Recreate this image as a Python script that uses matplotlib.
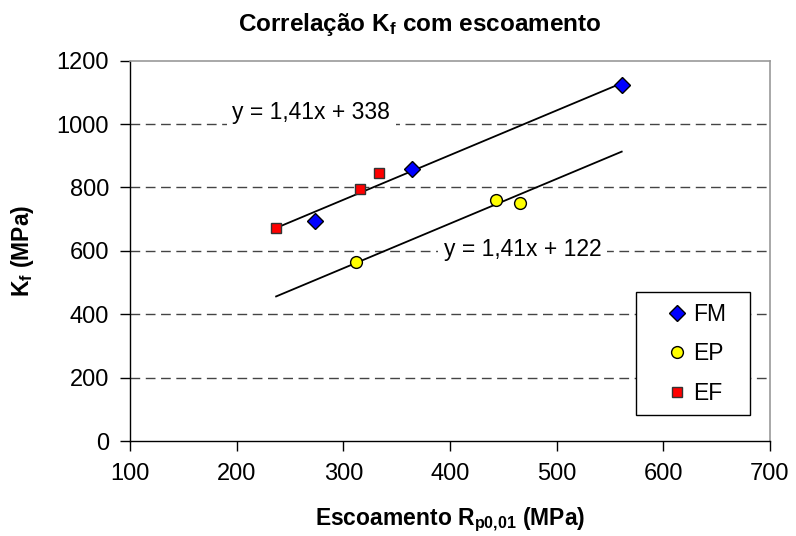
import numpy as np
import matplotlib
matplotlib.use("Agg")
import matplotlib.pyplot as plt
from matplotlib.patches import Rectangle

plt.rcParams['font.family'] = ['Liberation Sans', 'DejaVu Sans']
plt.rcParams['mathtext.fontset'] = 'custom'
plt.rcParams['mathtext.rm'] = 'Liberation Sans'
plt.rcParams['mathtext.bf'] = 'Liberation Sans:bold'
plt.rcParams['mathtext.default'] = 'regular'

# data
fm_x = [273, 364, 561]
fm_y = [695, 858, 1123]
ep_x = [312, 443, 466]
ep_y = [565, 760, 752]
ef_x = [237, 316, 333]
ef_y = [672, 796, 845]

slope = 1.41
upper_b = 338
lower_b = 122

x_ticks = [100, 200, 300, 400, 500, 600, 700]
y_ticks = [0, 200, 400, 600, 800, 1000, 1200]

fig = plt.figure(figsize=(7.96, 5.36), dpi=100)
ax = fig.add_axes([0.1633, 0.1772, 0.804, 0.7096])

# gridlines
for yv in y_ticks[1:-1]:
    ax.axhline(yv, color='#444444', lw=1, ls=(0, (7, 4)), zorder=0)

all_x = np.array(fm_x + ep_x + ef_x)
xl = np.array([all_x.min(), all_x.max()])
ax.plot(xl, slope * xl + upper_b, color='black', lw=1.3, zorder=2)
ax.plot(xl, slope * xl + lower_b, color='black', lw=1.3, zorder=2)

ax.plot(fm_x, fm_y, ls='none', marker='D', ms=8.5, mfc='#0000ff', mec='black', mew=1,
        label='FM', zorder=3)
ax.plot(ep_x, ep_y, ls='none', marker='o', ms=8.5, mfc='#ffff00', mec='black', mew=1,
        label='EP', zorder=3)
ax.plot(ef_x, ef_y, ls='none', marker='s', ms=6.5, mfc='#ff0000', mec='#333333', mew=1,
        label='EF', zorder=3)

ax.text(196, 1038, 'y = 1,41x + 338', fontsize=16.5, va='center', ha='left',
        bbox=dict(facecolor='white', edgecolor='none', pad=4), zorder=1)
ax.text(394, 603, 'y = 1,41x + 122', fontsize=16.5, va='center', ha='left',
        bbox=dict(facecolor='white', edgecolor='none', pad=4), zorder=1)

ax.set_xlim(100, 700)
ax.set_ylim(0, 1200)
ax.set_xticks(x_ticks)
ax.set_yticks(y_ticks)
ax.tick_params(axis='both', direction='out', length=7, width=1, labelsize=17)
ax.tick_params(axis='x', pad=9)
ax.tick_params(axis='y', pad=8)

for s in ['top', 'right']:
    ax.spines[s].set_color('#999999')
    ax.spines[s].set_linewidth(1.2)
for s in ['left', 'bottom']:
    ax.spines[s].set_color('black')
    ax.spines[s].set_linewidth(1)

# legend box drawn separately so it can be wider than the entries
ax.add_patch(Rectangle((0.7906, 0.0684), 0.1781, 0.3234, transform=ax.transAxes,
                       facecolor='white', edgecolor='black', lw=1, zorder=4))
leg = ax.legend(loc='upper left', bbox_to_anchor=(0.8406, 0.3635), fontsize=16.5,
                frameon=False, handlelength=0.8, handletextpad=0.3,
                labelspacing=0.72, borderpad=0, borderaxespad=0)
leg.set_zorder(5)

fig.text(450 / 796, 1 - 520 / 536, r'Escoamento R$_{\mathbf{p0{,}01}}$ (MPa)',
         fontsize=16.5, fontweight='bold', ha='center', va='center')
fig.text(23 / 796, 1 - 251 / 536, r'K$_{\mathbf{f}}$ (MPa)', fontsize=16.5,
         fontweight='bold', ha='center', va='center', rotation=90)
fig.text(420 / 796, 1 - 24 / 536, r'Correlação K$_{\mathbf{f}}$ com escoamento',
         fontsize=17.5, fontweight='bold', ha='center', va='center')

fig.savefig('out.png', dpi=100)
